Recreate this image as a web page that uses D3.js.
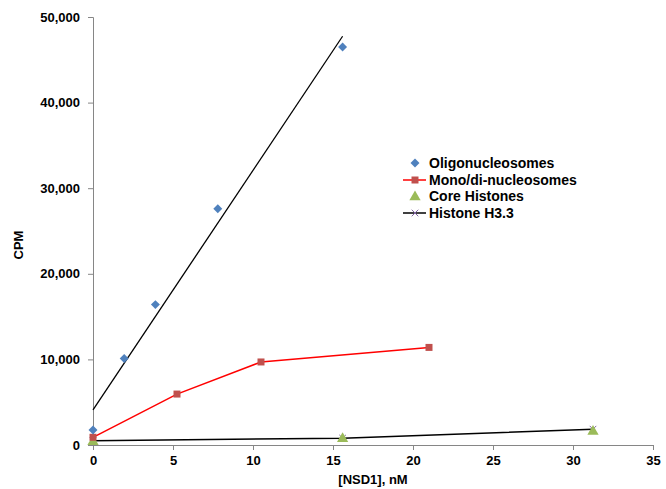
<!DOCTYPE html>
<html><head><meta charset="utf-8">
<script src="https://cdn.jsdelivr.net/npm/d3@7"></script>
<style>body{margin:0;background:#fff}svg text{font-family:"Liberation Sans",Arial,sans-serif;font-weight:bold;fill:#000}</style>
</head><body><svg id="c" width="666" height="489"></svg>
<script>
const oligoX = [0, 1.95, 3.9, 7.8, 15.6];
const oligoY = [1750, 10100, 16400, 27600, 46500];
const monoX = [0, 5.25, 10.5, 21];
const monoY = [900, 5950, 9700, 11400];
const coreX = [0, 15.6, 31.25];
const coreY = [500, 850, 1700];
const h33X = [0, 15.6, 31.25];
const h33Y = [500, 800, 1850];
const xTicks = [0, 5, 10, 15, 20, 25, 30, 35];
const yTicks = [0, 10000, 20000, 30000, 40000, 50000];
const legendLabels = ["Oligonucleosomes", "Mono/di-nucleosomes", "Core Histones", "Histone H3.3"];

const svg = d3.select("#c");
const m = {l: 93, r: 653, t: 17, b: 445};
const x = d3.scaleLinear().domain([0, 35]).range([m.l, m.r]);
const y = d3.scaleLinear().domain([0, 50000]).range([m.b, m.t]);
const axisCol = "#868686";

const xa = svg.append("g").attr("transform", `translate(0,${m.b})`)
  .call(d3.axisBottom(x).tickValues(xTicks).tickSize(5).tickPadding(6).tickFormat(d3.format("d")));
const ya = svg.append("g").attr("transform", `translate(${m.l},0)`)
  .call(d3.axisLeft(y).tickValues(yTicks).tickSize(5).tickPadding(8).tickFormat(d3.format(",")));
[xa, ya].forEach(a => {
  a.select(".domain").attr("stroke", axisCol).attr("stroke-width", 1);
  a.selectAll(".tick line").attr("stroke", axisCol);
  a.selectAll(".tick text").style("font-size", "13px").style("font-weight", "bold").attr("fill", "#000");
});

svg.append("text").attr("x", 373).attr("y", 484).attr("text-anchor", "middle").style("font-size", "13px").text("[NSD1], nM");
svg.append("text").attr("transform", "translate(23,245) rotate(-90)").attr("text-anchor", "middle").style("font-size", "13px").text("CPM");

// trendline (least squares) for Oligonucleosomes
const mx = d3.mean(oligoX), my = d3.mean(oligoY);
const slope = d3.sum(oligoX.map((v, i) => (v - mx) * (oligoY[i] - my))) / d3.sum(oligoX.map(v => (v - mx) ** 2));
const icpt = my - slope * mx;
const tx = [0, d3.max(oligoX)];
svg.append("line").attr("x1", x(tx[0])).attr("y1", y(icpt + slope * tx[0]))
  .attr("x2", x(tx[1])).attr("y2", y(icpt + slope * tx[1])).attr("stroke", "#000").attr("stroke-width", 1.3);

const line = d3.line().x(d => x(d[0])).y(d => y(d[1]));
const zip = (a, b) => a.map((v, i) => [v, b[i]]);

svg.append("path").attr("d", line(zip(h33X, h33Y))).attr("fill", "none").attr("stroke", "#000").attr("stroke-width", 1.5);
svg.append("path").attr("d", line(zip(monoX, monoY))).attr("fill", "none").attr("stroke", "#ff0000").attr("stroke-width", 1.5);

const sym = (type, size) => d3.symbol().type(type).size(size)();
svg.selectAll(".h33").data(zip(h33X, h33Y)).join("path")
  .attr("transform", d => `translate(${x(d[0])},${y(d[1])})`)
  .attr("d", sym(d3.symbolX, 30)).attr("stroke", "#8064a2").attr("stroke-width", 1).attr("fill", "none");
svg.selectAll(".core").data(zip(coreX, coreY)).join("path")
  .attr("transform", d => `translate(${x(d[0])},${y(d[1]) + 1})`)
  .attr("d", sym(d3.symbolTriangle, 55)).attr("fill", "#9bbb59");
svg.selectAll(".mono").data(zip(monoX, monoY)).join("path")
  .attr("transform", d => `translate(${x(d[0])},${y(d[1])})`)
  .attr("d", sym(d3.symbolSquare, 49)).attr("fill", "#c0504d");
svg.selectAll(".oligo").data(zip(oligoX, oligoY)).join("path")
  .attr("transform", d => `translate(${x(d[0])},${y(d[1])}) rotate(45)`)
  .attr("d", sym(d3.symbolSquare, 40)).attr("fill", "#4f81bd");

// legend
const lg = svg.append("g");
const ly = [163, 180, 196, 213];
const lx0 = 403, lx1 = 426, lmx = 415, ltx = 429;
legendLabels.forEach((t, i) => {
  lg.append("text").attr("x", ltx).attr("y", ly[i]).attr("dy", "0.35em").style("font-size", "14px").text(t);
});
lg.append("path").attr("transform", `translate(${lmx},${ly[0]}) rotate(45)`).attr("d", sym(d3.symbolSquare, 40)).attr("fill", "#4f81bd");
lg.append("line").attr("x1", lx0).attr("x2", lx1).attr("y1", ly[1]).attr("y2", ly[1]).attr("stroke", "#ff0000").attr("stroke-width", 1.5);
lg.append("path").attr("transform", `translate(${lmx},${ly[1]})`).attr("d", sym(d3.symbolSquare, 49)).attr("fill", "#c0504d");
lg.append("path").attr("transform", `translate(${lmx},${ly[2] + 1})`).attr("d", sym(d3.symbolTriangle, 55)).attr("fill", "#9bbb59");
lg.append("line").attr("x1", lx0).attr("x2", lx1).attr("y1", ly[3]).attr("y2", ly[3]).attr("stroke", "#000").attr("stroke-width", 1.5);
lg.append("path").attr("transform", `translate(${lmx},${ly[3]})`).attr("d", sym(d3.symbolX, 30)).attr("stroke", "#8064a2").attr("fill", "none");
</script></body></html>
